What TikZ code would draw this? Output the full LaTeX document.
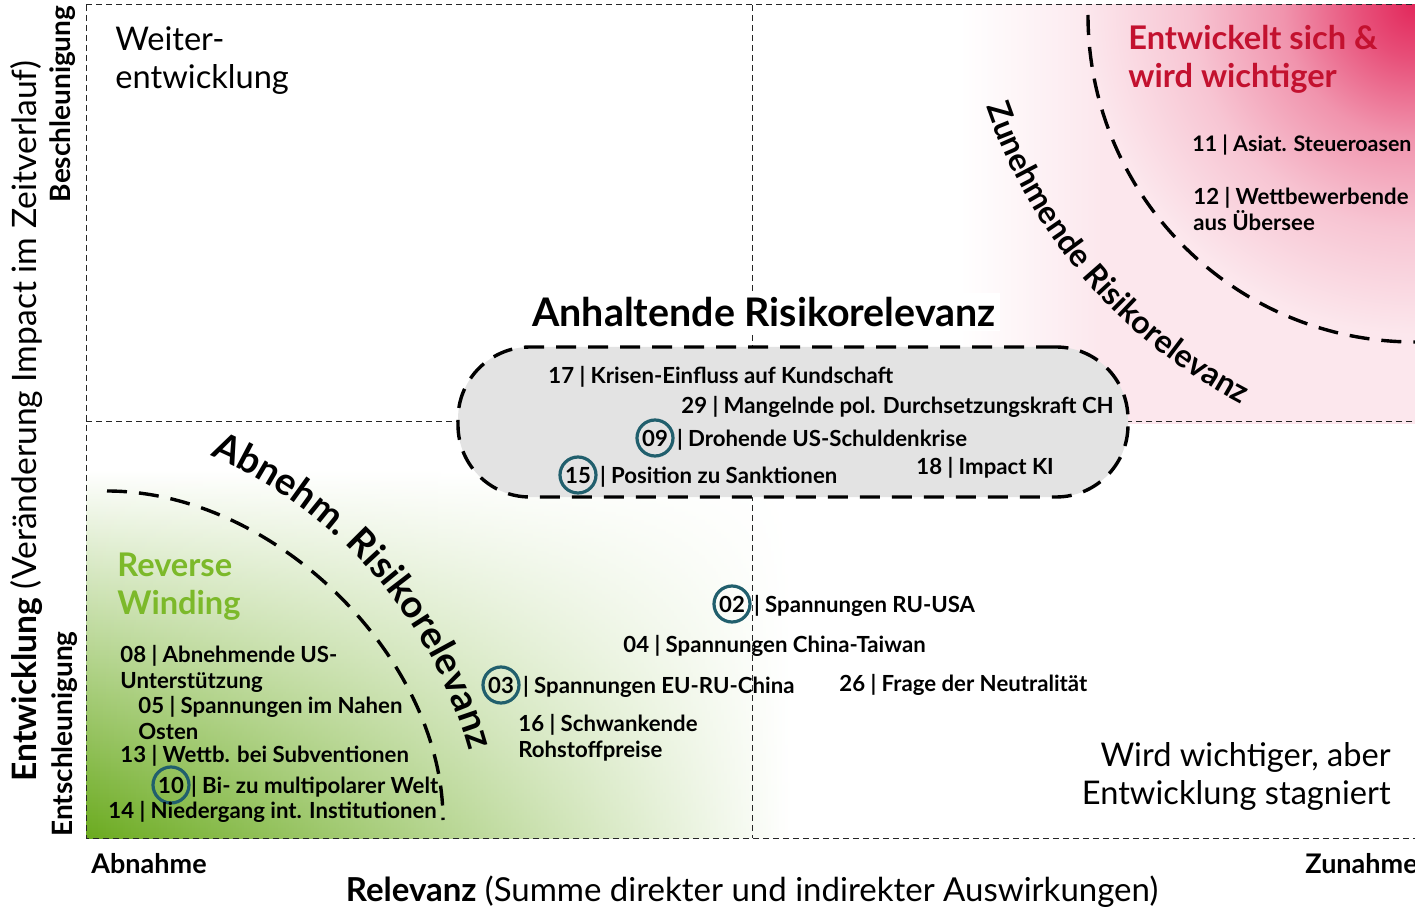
\documentclass[tikz,border=0pt]{standalone}
\usepackage{fontspec}
\setmainfont{Lato}
\usetikzlibrary{positioning,decorations.text,fadings}

\definecolor{riskred}{HTML}{C3112F}
\definecolor{redbg}{HTML}{E2285B}
\definecolor{windgreen}{HTML}{7CB92A}
\definecolor{greenbg}{HTML}{6AAA1E}
\definecolor{boxgray}{HTML}{E3E3E3}
\definecolor{ringteal}{HTML}{215F6D}

% red core: 25bp is the edge of the shaded circle
\pgfdeclareradialshading{redcore}{\pgfpoint{0bp}{0bp}}{%
  color(0bp)=(redbg); color(4bp)=(redbg!82); color(10bp)=(redbg!50);
  color(17bp)=(redbg!27); color(25bp)=(redbg!11); color(50bp)=(redbg!11)}
\tikzfading[name=green h, left color=transparent!0, middle color=transparent!5,
  right color=transparent!100]

\begin{document}
\begin{tikzpicture}[x=0.5pt, y=0.5pt,
    grid line/.style={densely dashed, line width=0.5pt, black!85},
    zone line/.style={line width=1.7pt, dash pattern=on 10pt off 6pt},
    item/.style={font=\bfseries\fontsize{11.1}{13}\selectfont,
      inner sep=0pt, text height=8pt, text depth=0pt},
    item block/.style={font=\bfseries\fontsize{11.1}{12.8}\selectfont,
      inner sep=0pt, align=left},
    num/.style={circle, draw=ringteal, line width=1.6pt, minimum size=18pt,
      inner sep=0pt, font=\bfseries\fontsize{11.1}{13}\selectfont,
      text height=8pt, text depth=0pt},
    zone title/.style={font=\fontsize{16.3}{19}\selectfont, align=left, inner sep=0pt},
    zone head/.style={font=\bfseries\fontsize{16.3}{19}\selectfont, align=left, inner sep=0pt},
    axis end/.style={font=\bfseries\fontsize{13.5}{15}\selectfont, inner sep=0pt},
    side label/.style={rotate=90, inner sep=0pt, font=\bfseries\fontsize{14}{15}\selectfont},
    risk box/.style={draw, fill=boxgray, rounded corners=36pt, line width=1.7pt,
      dash pattern=on 10pt off 6pt, minimum width=335pt, minimum height=75pt}]
  \useasboundingbox (0,0) rectangle (1415,-909);

  % background fades
  \shade[top color=white, middle color=greenbg!60, bottom color=greenbg,
    path fading=green h] (86,-470) rectangle (790,-838);
  \shade[left color=white, right color=redbg!11] (960,-5) rectangle (1100,-424);
  \fill[redbg!11] (1100,-5) rectangle (1415,-424);
  \begin{scope}
    \clip (86,-5) rectangle (1415,-838);
    \shade[shading=redcore] (1415,-5) circle[radius=330];
  \end{scope}

  % quadrant grid
  \draw[grid line] (86,-5) -- (1415,-5);
  \draw[grid line] (86,-5) -- (86,-838) -- (1415,-838);
  \draw[grid line] (752,-5) -- (752,-838);
  \draw[grid line] (86,-422) -- (1415,-422);

  % zone borders
  \draw[zone line] (1088,-15) arc (180:270:327);
  \draw[zone line] (107,-491) .. controls (275,-491) and (443,-658) .. (443,-820);

  \path[decorate, decoration={text along path,
      text={|\bfseries\fontsize{16}{16}\selectfont|Zunehmende Risikorelevanz}}]
    (1485,63) ++(198.8:527) arc (198.8:262:527);
  \path[decorate, decoration={text along path,
      text={|\bfseries\fontsize{19}{19}\selectfont|Abnehm. Risikorelevanz}}]
    (34,-871) ++(67:451) arc (67:2:451);

  % persistent risks
  \node[risk box] (anhalt) at (793,-422) {};
  \node[above=7pt of anhalt, xshift=-14.5pt, fill=white, inner sep=2pt,
    font=\bfseries\fontsize{19.7}{21}\selectfont] (anhaltTitle) {Anhaltende Risikorelevanz};
  \node[item, anchor=base west] (i17) at (548,-384) {17 | Krisen-Einfluss auf Kundschaft};
  \node[item, anchor=base west] (i29) at (681,-414) {29 | Mangelnde pol. Durchsetzungskraft CH};
  \node[num] (n09) at (655,-438) {09};
  \node[item, right=1pt of n09] (i09) {| Drohende US-Schuldenkrise};
  \node[num] (n15) at (578,-475) {15};
  \node[item, right=1pt of n15] (i15) {| Position zu Sanktionen};
  \node[item, anchor=base west] (i18) at (916,-474) {18 | Impact KI};

  % quadrant titles
  \node[zone title, anchor=north west] (weiter) at (115,-26) {Weiter-\\entwicklung};
  \node[zone head, text=riskred, anchor=north west] (entw) at (1128,-25) {Entwickelt sich \&\\wird wichtiger};
  \node[zone head, text=windgreen, anchor=north west] (reverse) at (117,-553) {Reverse\\Winding};
  \node[zone title, align=right, anchor=north east] (stagn) at (1391,-742) {Wird wichtiger, aber\\Entwicklung stagniert};

  % upper right
  \node[item, font=\bfseries\fontsize{10.7}{13}\selectfont, anchor=base west] (i11) at (1192,-152) {11 | Asiat. Steueroasen};
  \node[item block, anchor=north west] (i12) at (1193,-187) {12 | Wettbewerbende\\aus Übersee};

  % lower left
  \node[item block, anchor=north west] (i08) at (120,-645) {08 | Abnehmende US-\\Unterstützung};
  \node[item block, anchor=north west] (i05) at (138,-696) {05 | Spannungen im Nahen\\Osten};
  \node[item, anchor=base west] (i13) at (120,-762) {13 | Wettb. bei Subventionen};
  \node[num] (n10) at (171,-785) {10};
  \node[item, right=0pt of n10] (i10) {| Bi- zu multipolarer Welt};
  \node[item, anchor=base west] (i14) at (108,-818) {14 | Niedergang int. Institutionen};

  % centre
  \node[num] (n02) at (732,-604) {02};
  \node[item, right=1pt of n02] (i02) {| Spannungen RU-USA};
  \node[item, anchor=base west] (i04) at (623,-652) {04 | Spannungen China-Taiwan};
  \node[num] (n03) at (501,-685) {03};
  \node[item, right=1pt of n03] (i03) {| Spannungen EU-RU-China};
  \node[item, anchor=base west] (i26) at (839,-691) {26 | Frage der Neutralität};
  \node[item block, anchor=north west] (i16) at (518,-714) {16 | Schwankende\\Rohstoffpreise};

  % axes
  \node[axis end, anchor=base west] (abn) at (91,-873) {Abnahme};
  \node[axis end, anchor=base west] (zun) at (1305,-873) {Zunahme};
  \node[anchor=base, inner sep=0pt, font=\fontsize{16.5}{18}\selectfont] (xaxis) at (752,-901)
    {\textbf{Relevanz} (Summe direkter und indirekter Auswirkungen)};
  \node[rotate=90, inner sep=0pt, font=\fontsize{16.8}{18}\selectfont] (yaxis) at (27,-421)
    {\textbf{Entwicklung} (Veränderung Impact im Zeitverlauf)};
  \node[side label] (besch) at (63,-104) {Beschleunigung};
  \node[side label] (entsch) at (65,-734) {Entschleunigung};
\end{tikzpicture}
\end{document}
